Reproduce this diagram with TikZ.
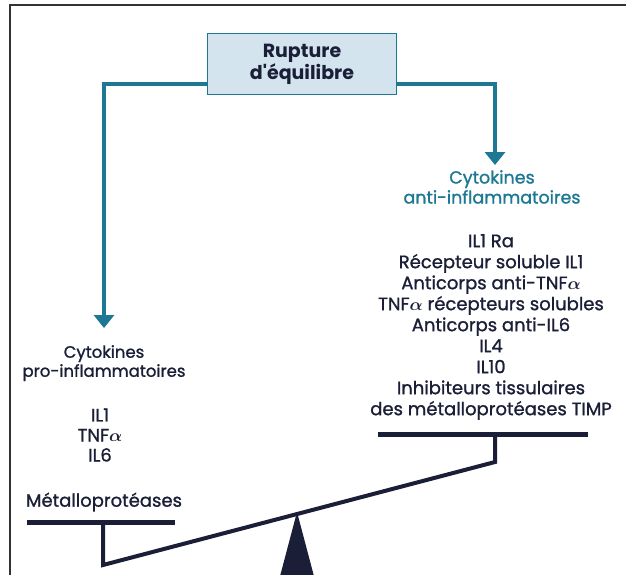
\documentclass[tikz,border=0pt]{standalone}
\usepackage{fontspec}
\usepackage{amsmath}
\setmainfont{Poppins}[UprightFeatures={FakeBold=1.2}]
\usetikzlibrary{arrows.meta}
\definecolor{teal1}{HTML}{1D7893}
\definecolor{boxblue}{HTML}{D3E4EF}
\definecolor{ink}{HTML}{1A1E36}
\newcommand\alf{$\boldsymbol{\alpha}$}
\tikzset{
  link/.style={teal1, line width=4pt, -{Triangle[width=20pt,length=13pt]}},
  beam/.style={ink, line width=4pt},
  plate/.style={ink, line width=5pt},
  txt/.style={align=center, text=ink, inner sep=0pt, font=\fontsize{18}{21}\selectfont},
}
\begin{document}
\begin{tikzpicture}[x=1pt,y=-1pt]
\useasboundingbox (0,0) rectangle (626,574);
\draw[line width=2pt, black!80] (10,576) -- (10,5) -- (628,5);
\node[txt, draw=teal1, fill=boxblue, line width=1.5pt, minimum width=189pt, minimum height=61pt,
      font=\fontsize{19}{22}\selectfont\bfseries] (rupture) at (302,64) {Rupture\\d\textquotesingle équilibre};
\node[txt, anchor=north, text=teal1, font=\fontsize{17.5}{20}\selectfont] (anticyt) at (492,170) {Cytokines\\anti-inflammatoires};
\node[txt, anchor=north, font=\fontsize{16.5}{19}\selectfont] (procyt) at (104,345) {Cytokines\\pro-inflammatoires};
\draw[link] ([yshift=-20pt]rupture.west) -| ([yshift=17pt]procyt.north);
\draw[link] ([yshift=-20pt]rupture.east) -| ([xshift=3pt, yshift=5pt]anticyt.north);
\node[txt] (antilist) at (491,327) {IL1 Ra\\Récepteur soluble IL1\\Anticorps anti-TNF\alf\\TNF\alf{} récepteurs solubles\\Anticorps anti-IL6\\IL4\\IL10\\Inhibiteurs tissulaires\\des métalloprotéases TIMP};
\node[txt, font=\fontsize{18}{20}\selectfont] (prolist) at (100,435) {IL1\\TNF\alf\\IL6};
\node[txt] (metallo) at (104,502) {Métalloprotéases};
\coordinate (lhang) at (103,565);
\coordinate (rhang) at (495,462);
\draw[plate] (27,522) -- (175,522);
\draw[plate] (378,434) -- (588,434);
\draw[beam] (103,522) -- (lhang) -- (rhang) -- (495,434);
\fill[ink] (297,512) -- (315,580) -- (279,580) -- cycle;
\end{tikzpicture}
\end{document}
